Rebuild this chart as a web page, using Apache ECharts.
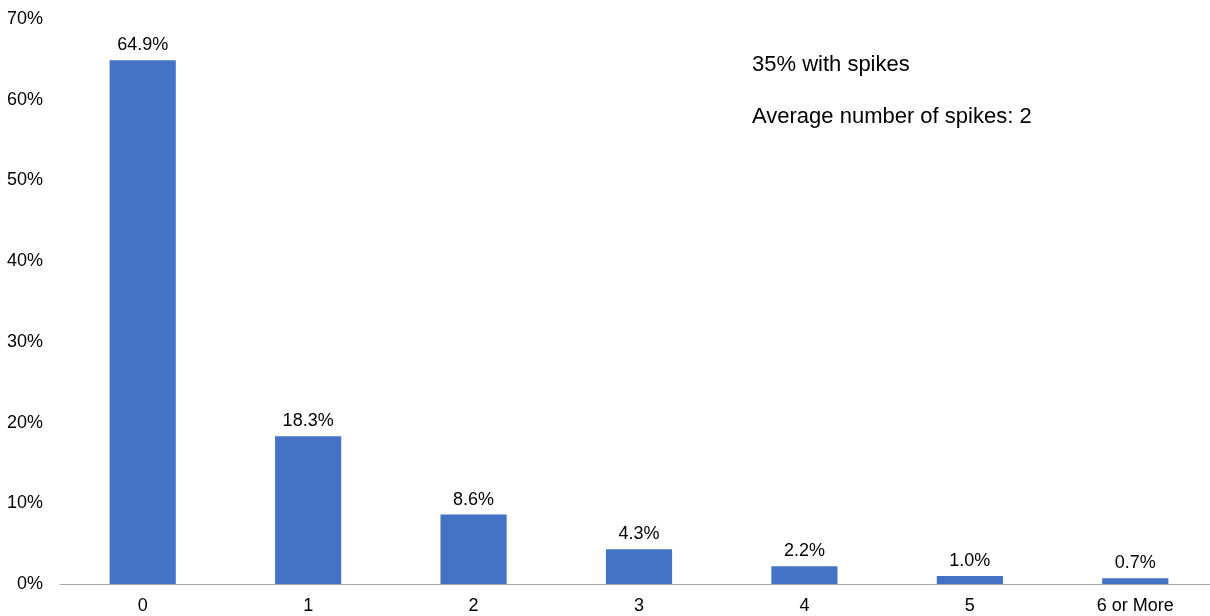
<!DOCTYPE html>
<html>
<head>
<meta charset="utf-8">
<script src="https://cdn.jsdelivr.net/npm/echarts@6/dist/echarts.min.js"></script>
<style>html,body{margin:0;padding:0;background:#fff;overflow:hidden;width:1210px;height:616px}#c{width:1218px;height:616px}</style>
</head>
<body>
<div id="c"></div>
<script>
const categories = ['0', '1', '2', '3', '4', '5', '6 or More'];
const values = [64.9, 18.3, 8.6, 4.3, 2.2, 1.0, 0.7];
const yTicks = [0, 10, 20, 30, 40, 50, 60, 70];
const notes = ['35% with spikes', 'Average number of spikes: 2'];

const chart = echarts.init(document.getElementById('c'));
const font = 'Liberation Sans, Arial, sans-serif';
chart.setOption({
  animation: false,
  grid: { left: 60, right: 0, top: 19, bottom: 32, containLabel: false },
  xAxis: {
    type: 'category',
    data: categories,
    axisLine: { lineStyle: { color: '#a6a6a6', width: 1 } },
    axisTick: { show: false },
    axisLabel: { color: '#000', fontFamily: font, fontSize: 18, margin: 13, interval: 0 }
  },
  yAxis: {
    type: 'value',
    min: yTicks[0], max: yTicks[yTicks.length - 1], interval: 10,
    splitLine: { show: false },
    axisLine: { show: false },
    axisTick: { show: false },
    axisLabel: { color: '#000', fontFamily: font, fontSize: 18, margin: 17, formatter: v => v + '%' }
  },
  series: [{
    type: 'bar',
    data: values,
    barWidth: '40%',
    itemStyle: { color: '#4472C4' },
    label: {
      show: true, position: 'top', distance: 6,
      color: '#000', fontFamily: font, fontSize: 18,
      formatter: p => p.value.toFixed(1) + '%'
    }
  }],
  graphic: [
    { type: 'text', left: 752, top: 54, style: { text: notes[0], fill: '#000', font: '22px ' + font } },
    { type: 'text', left: 752, top: 106, style: { text: notes[1], fill: '#000', font: '22px ' + font } }
  ]
});
</script>
</body>
</html>
